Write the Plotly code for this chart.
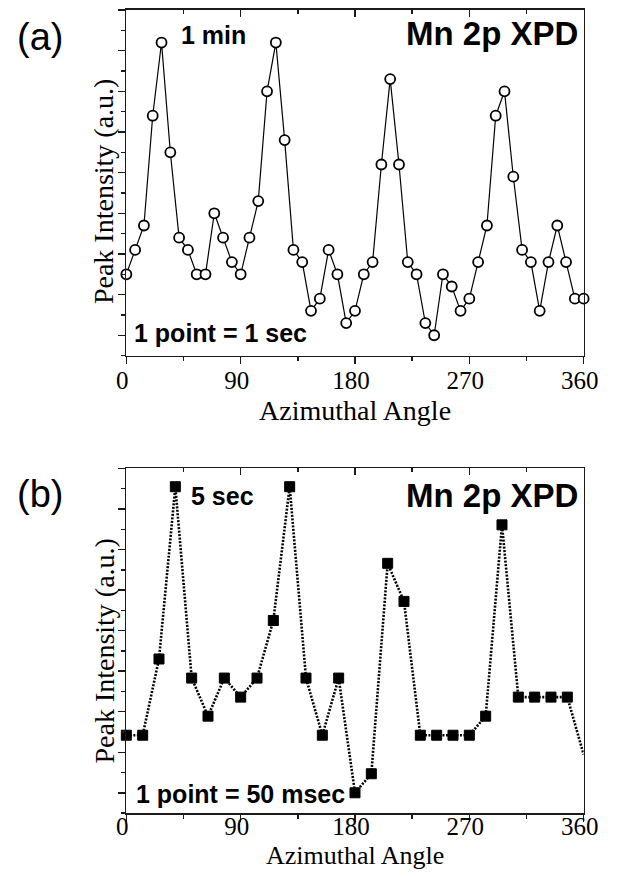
import plotly.graph_objects as go

# ---------------- data ----------------
angles_a = [0, 6.92, 13.85, 20.77, 27.69, 34.62, 41.54, 48.46, 55.38, 62.31,
            69.23, 76.15, 83.08, 90, 96.92, 103.85, 110.77, 117.69, 124.62, 131.54,
            138.46, 145.38, 152.31, 159.23, 166.15, 173.08, 180, 186.92, 193.85, 200.77,
            207.69, 214.62, 221.54, 228.46, 235.38, 242.31, 249.23, 256.15, 263.08, 270,
            276.92, 283.85, 290.77, 297.69, 304.62, 311.54, 318.46, 325.38, 332.31, 339.23,
            346.15, 353.08, 360]
intensity_a = [1.5, 2.1, 2.7, 5.4, 7.2, 4.5, 2.4, 2.1, 1.5, 1.5,
               3.0, 2.4, 1.8, 1.5, 2.4, 3.3, 6.0, 7.2, 4.8, 2.1,
               1.8, 0.6, 0.9, 2.1, 1.5, 0.3, 0.6, 1.5, 1.8, 4.2,
               6.3, 4.2, 1.8, 1.5, 0.3, 0.0, 1.5, 1.2, 0.6, 0.9,
               1.8, 2.7, 5.4, 6.0, 3.9, 2.1, 1.8, 0.6, 1.8, 2.7,
               1.8, 0.9, 0.9]

angles_b = [0, 12.86, 25.71, 38.57, 51.43, 64.29, 77.14, 90, 102.86, 115.71,
            128.57, 141.43, 154.29, 167.14, 180, 192.86, 205.71, 218.57, 231.43, 244.29,
            257.14, 270, 282.86, 295.71, 308.57, 321.43, 334.29, 347.14, 360]
intensity_b = [1.42, 1.42, 3.30, 7.55, 2.83, 1.89, 2.83, 2.36, 2.83, 4.25,
               7.55, 2.83, 1.42, 2.83, 0.0, 0.47, 5.66, 4.72, 1.42, 1.42,
               1.42, 1.42, 1.89, 6.61, 2.36, 2.36, 2.36, 2.36, 0.94]

x_ticks = [0, 90, 180, 270, 360]
x_minor_ticks = [45, 135, 225, 315]
x_range = [0, 360]
y_range = [-0.5, 8]

# ---------------- figure ----------------
# page is 622x877; the browser's default 8px body margin surrounds the figure
PAGE_MARGIN = 8
W, H = 622 - 2 * PAGE_MARGIN, 877 - 2 * PAGE_MARGIN

def px_x(p):
    return (p - PAGE_MARGIN) / W

def px_y(p):
    return 1 - (p - PAGE_MARGIN) / H

fig = go.Figure()

fig.add_trace(go.Scatter(
    x=angles_a, y=intensity_a, xaxis="x", yaxis="y", mode="lines+markers",
    line=dict(color="black", width=1.2),
    marker=dict(symbol="circle", size=10, color="white", line=dict(color="black", width=1.8)),
    cliponaxis=False, hoverinfo="x+y"))

sizes_b = [10] * (len(angles_b) - 1) + [0]
fig.add_trace(go.Scatter(
    x=angles_b, y=intensity_b, xaxis="x2", yaxis="y2", mode="lines+markers",
    line=dict(color="black", width=2.6, dash="2px,1.5px"),
    marker=dict(symbol="square", size=sizes_b, color="black", opacity=1,
                line=dict(color="black", width=1)),
    cliponaxis=False, hoverinfo="x+y"))

# empty traces to host the top (inside-tick) axes
fig.add_trace(go.Scatter(x=[], y=[], xaxis="x3", yaxis="y", hoverinfo="skip"))
fig.add_trace(go.Scatter(x=[], y=[], xaxis="x4", yaxis="y2", hoverinfo="skip"))

xdom = [px_x(121), px_x(598)]
ydom_a = [px_y(355), px_y(9)]
ydom_b = [px_y(813), px_y(468)]

tickfont = dict(family="Liberation Serif, Times New Roman, serif", size=25, color="black")
line_c = "#1a1a1a"

def xaxis_bottom(anchor, standoff):
    return dict(domain=xdom, anchor=anchor, range=x_range, tickmode="array",
                tickvals=x_ticks, ticktext=[str(v) for v in x_ticks],
                ticks="outside", ticklen=7, tickwidth=1.5, tickcolor=line_c,
                minor=dict(tickmode="array", tickvals=x_minor_ticks, ticks="outside",
                           ticklen=4, tickwidth=1.5, tickcolor=line_c),
                showline=True, linecolor=line_c, linewidth=1.6, mirror=True,
                showgrid=False, zeroline=False, tickfont=tickfont, fixedrange=True,
                ticklabelstandoff=standoff, ticklabelshift=-4)

def xaxis_top(over, anchor):
    return dict(domain=xdom, anchor=anchor, overlaying=over, side="top", range=x_range,
                tickmode="array", tickvals=x_ticks, ticks="inside", ticklen=7,
                tickwidth=1.5, tickcolor=line_c,
                minor=dict(tickmode="array", tickvals=x_minor_ticks, ticks="inside",
                           ticklen=4, tickwidth=1.5, tickcolor=line_c),
                showticklabels=False, showline=False, showgrid=False, zeroline=False,
                fixedrange=True)

def yaxis(dom, anchor):
    return dict(domain=dom, anchor=anchor, range=y_range, tick0=0, dtick=1,
                ticks="outside", ticklen=7, tickwidth=1.5, tickcolor=line_c,
                minor=dict(tick0=0, dtick=0.5, ticks="outside", ticklen=4,
                           tickwidth=1.5, tickcolor=line_c),
                showticklabels=False, showline=True, linecolor=line_c, linewidth=1.6,
                mirror=True, showgrid=False, zeroline=False, fixedrange=True)

fig.update_layout(
    width=W, height=H, margin=dict(l=0, r=0, t=0, b=0),
    paper_bgcolor="white", plot_bgcolor="white", showlegend=False,
    xaxis=xaxis_bottom("y", -5), yaxis=yaxis(ydom_a, "x"),
    xaxis2=xaxis_bottom("y2", -17), yaxis2=yaxis(ydom_b, "x2"),
    xaxis3=xaxis_top("x", "y"), xaxis4=xaxis_top("x2", "y2"),
)

sans = "Liberation Sans, Arial, Helvetica, sans-serif"
serif = "Liberation Serif, Times New Roman, serif"

def ann(text, x, y, size, family, xanchor="left", yanchor="middle", angle=0):
    fig.add_annotation(text=text, x=px_x(x), y=px_y(y), xref="paper", yref="paper",
                       xanchor=xanchor, yanchor=yanchor, showarrow=False, textangle=angle,
                       font=dict(family=family, size=size, color="black"))

# panel (a)
ann("(a)", 5, 36, 38, sans)
ann("<b>1 min</b>", 176, 34, 25, sans)
ann("<b>Mn 2p XPD</b>", 594, 33, 33, sans, xanchor="right")
ann("<b>1 point = 1 sec</b>", 127, 332, 25, sans)
ann("Azimuthal Angle", 359, 410, 28, serif, xanchor="center")
ann("Peak Intensity (a.u.)", 98, 190, 28, serif, xanchor="center", angle=-90)

# panel (b)
ann("(b)", 5, 494, 38, sans)
ann("<b>5 sec</b>", 186, 496, 25, sans)
ann("<b>Mn 2p XPD</b>", 594, 495, 33, sans, xanchor="right")
ann("<b>1 point = 50 msec</b>", 129, 794, 25, sans)
ann("Azimuthal Angle", 359, 855, 26, serif, xanchor="center")
ann("Peak Intensity (a.u.)", 98, 650, 28, serif, xanchor="center", angle=-90)

fig.write_html("out.html", config=dict(displayModeBar=False, staticPlot=True))
